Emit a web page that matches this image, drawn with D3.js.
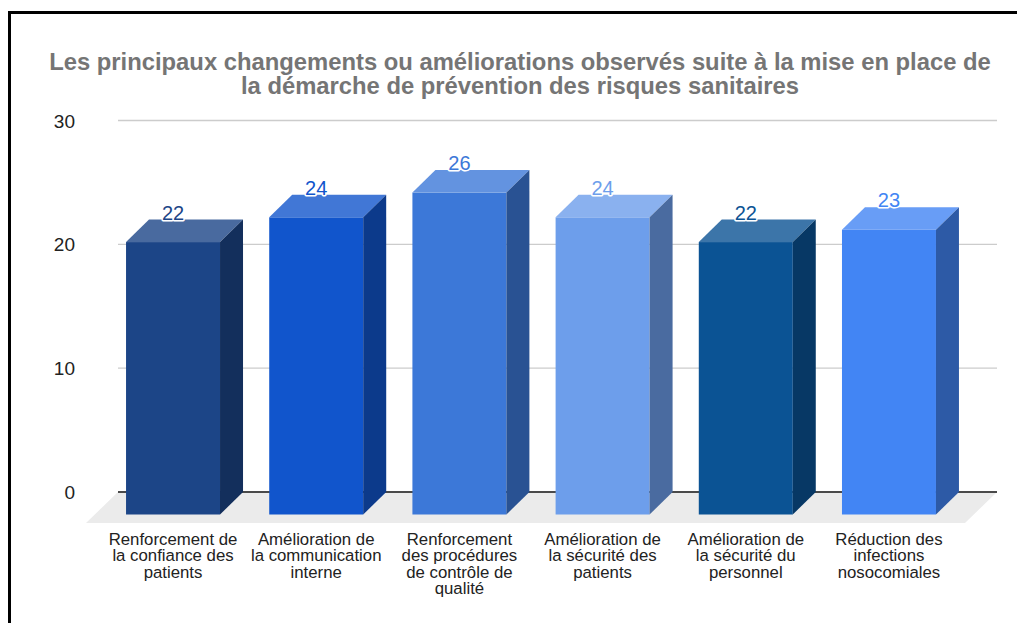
<!DOCTYPE html>
<html>
<head>
<meta charset="utf-8">
<script src="https://cdn.jsdelivr.net/npm/d3@7"></script>
<style>
  html, body { margin: 0; padding: 0; background: #fff; }
  svg { display: block; }
  .cat {
    font-family: 'Liberation Sans', Arial, sans-serif;
    font-size: 16.8px;
    line-height: 16.4px;
    color: #222;
    text-align: center;
    white-space: nowrap;
  }
</style>
</head>
<body>
<svg id="chart" width="1017" height="623"></svg>
<script>
// Chart content
const titleLines = [
  "Les principaux changements ou améliorations observés suite à la mise en place de",
  "la démarche de prévention des risques sanitaires"
];
const categories = [
  ["Renforcement de", "la confiance des", "patients"],
  ["Amélioration de", "la communication", "interne"],
  ["Renforcement", "des procédures", "de contrôle de", "qualité"],
  ["Amélioration de", "la sécurité des", "patients"],
  ["Amélioration de", "la sécurité du", "personnel"],
  ["Réduction des", "infections", "nosocomiales"]
];
const values = [22, 24, 26, 24, 22, 23];
const barColors = ["#1c4587", "#1155cc", "#3c78d8", "#6d9eeb", "#0b5394", "#4285f4"];
const yTicks = [0, 10, 20, 30];

const svg = d3.select("#chart");
const font = "'Liberation Sans', Arial, sans-serif";

// 3D depth offset of the bars and of the floor
const depth = { dx: 23, dy: 22.5 };
const floorDepth = { dx: -32, dy: 31 };

const y = d3.scaleLinear().domain([0, 30]).range([492, 120.5]);
const keys = categories.map((c, i) => "c" + i);
const x = d3.scaleBand().domain(keys).range([97.4, 964.6])
  .paddingInner(0.3436).paddingOuter(0.2);

const plotLeft = 118, plotRight = 997;

// frame
svg.append("rect")
  .attr("x", 9.5).attr("y", 12.5)
  .attr("width", 1030).attr("height", 640)
  .attr("fill", "none").attr("stroke", "#000").attr("stroke-width", 3);

// title
svg.append("text")
  .attr("x", 520).attr("text-anchor", "middle")
  .attr("font-family", font).attr("font-weight", "bold")
  .attr("font-size", 23.8).attr("fill", "#757575")
  .selectAll("tspan").data(titleLines).join("tspan")
  .attr("x", 520).attr("y", (d, i) => 70 + i * 24)
  .text(d => d);

// floor
const y0 = y(0);
svg.append("path")
  .attr("d", d3.line()([
    [plotLeft, y0], [plotRight, y0],
    [plotRight + floorDepth.dx, y0 + floorDepth.dy],
    [plotLeft + floorDepth.dx, y0 + floorDepth.dy]
  ]) + "Z")
  .attr("fill", "#ebebeb");

// gridlines
svg.append("g").selectAll("line").data(yTicks.filter(t => t !== 0)).join("line")
  .attr("x1", plotLeft).attr("x2", plotRight)
  .attr("y1", d => y(d)).attr("y2", d => y(d))
  .attr("stroke", "#cccccc").attr("stroke-width", 1.3);

// baseline
svg.append("line")
  .attr("x1", plotLeft).attr("x2", plotRight)
  .attr("y1", y0).attr("y2", y0)
  .attr("stroke", "#4a4a4a").attr("stroke-width", 2);

// y tick labels
svg.append("g").selectAll("text").data(yTicks).join("text")
  .attr("x", 75).attr("y", d => y(d) + 7)
  .attr("text-anchor", "end")
  .attr("font-family", font).attr("font-size", 19).attr("fill", "#222")
  .text(d => d);

// bars
const bw = x.bandwidth();
const bars = svg.append("g").selectAll("g").data(values).join("g");

bars.each(function (v, i) {
  const g = d3.select(this);
  const c = barColors[i];
  const top = d3.interpolateRgb(c, "#ffffff")(0.2);
  const side = d3.rgb(c).darker(1.08).formatHex();
  const x0 = x(keys[i]);
  const yb = y(v), yf = yb + depth.dy;
  const ybot = y0 + depth.dy;
  const line = d3.line();
  // front face
  g.append("rect")
    .attr("x", x0).attr("y", yf)
    .attr("width", bw).attr("height", ybot - yf)
    .attr("fill", c);
  // top face
  g.append("path")
    .attr("d", line([[x0, yf], [x0 + bw, yf], [x0 + bw + depth.dx, yb], [x0 + depth.dx, yb]]) + "Z")
    .attr("fill", top);
  // side face
  g.append("path")
    .attr("d", line([[x0 + bw, yf], [x0 + bw + depth.dx, yb], [x0 + bw + depth.dx, y0], [x0 + bw, ybot]]) + "Z")
    .attr("fill", side);
  // value label
  g.append("text")
    .attr("x", x0 + bw / 2).attr("y", yb)
    .attr("text-anchor", "middle")
    .attr("font-family", font).attr("font-size", 20)
    .attr("fill", c)
    .attr("stroke", "#fff").attr("stroke-width", 3)
    .attr("stroke-linejoin", "round")
    .attr("paint-order", "stroke")
    .text(v);
});

// category labels (wrapped, tight line spacing)
const labelW = 150;
svg.append("g").selectAll("foreignObject").data(categories).join("foreignObject")
  .attr("x", (d, i) => x(keys[i]) + bw / 2 - labelW / 2)
  .attr("y", 532)
  .attr("width", labelW).attr("height", 80)
  .append("xhtml:div")
  .attr("class", "cat")
  .html(lines => lines.join("<br>"));
</script>
</body>
</html>
